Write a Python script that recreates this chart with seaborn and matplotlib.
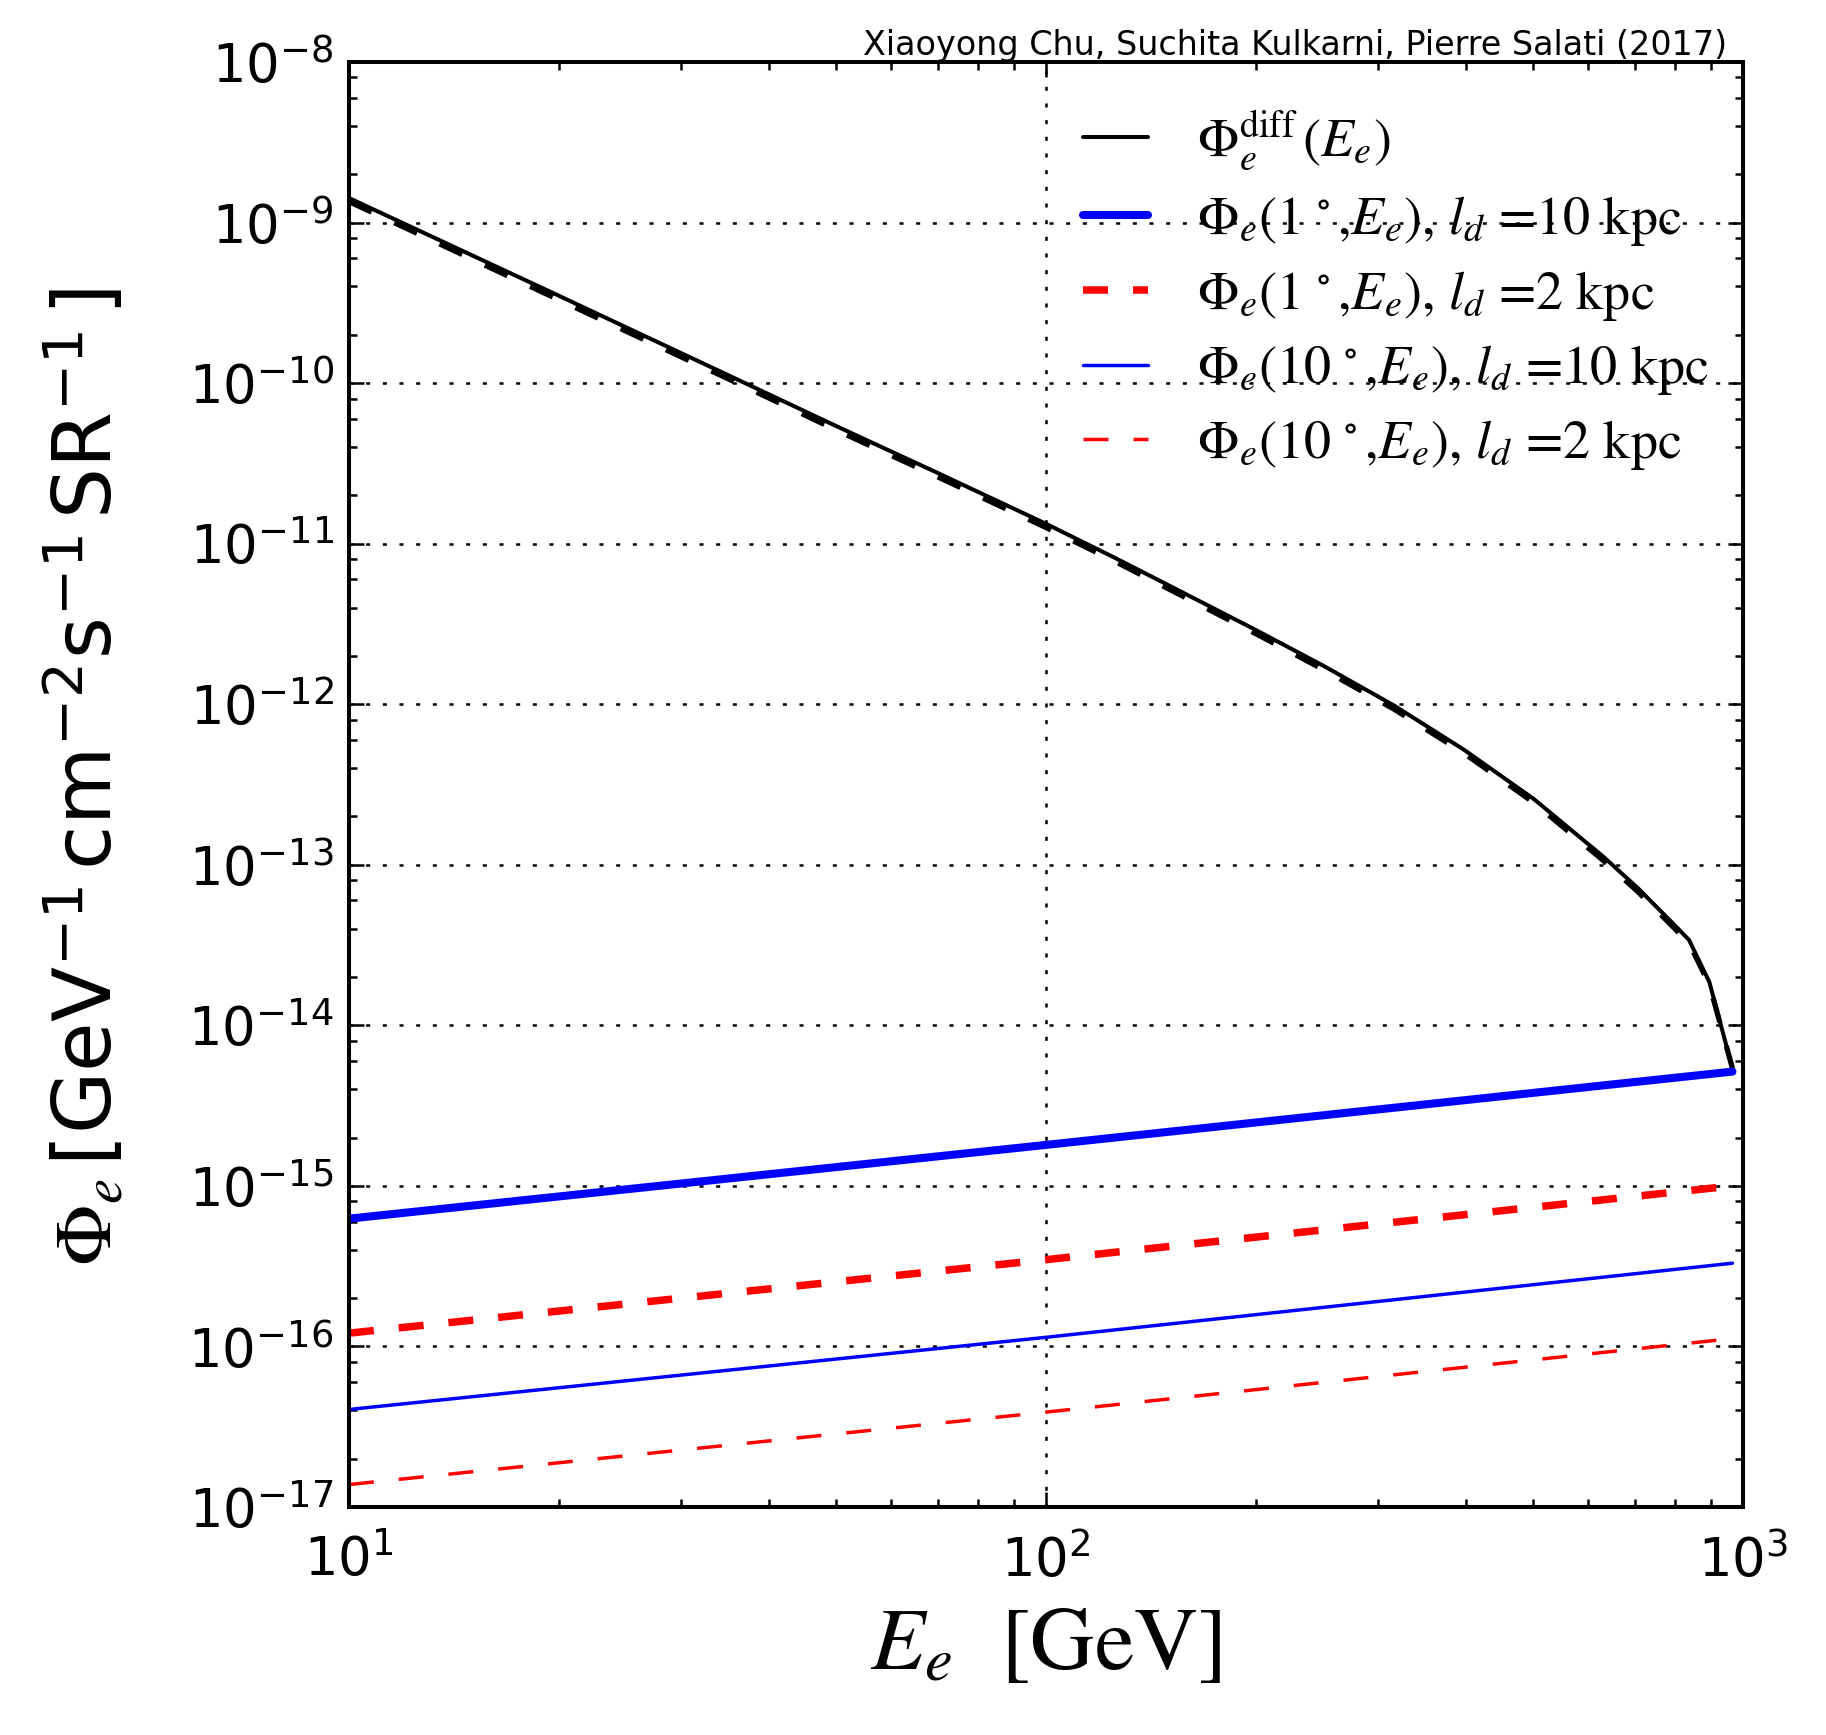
import numpy as np
import pandas as pd
import seaborn as sns
import matplotlib
matplotlib.use("Agg")
import matplotlib.pyplot as plt
from matplotlib.ticker import LogLocator, NullFormatter
from matplotlib.font_manager import FontProperties

# ---------------- data ----------------
E_diff = [10, 11.9, 20, 37, 50, 70, 100, 126, 158, 200, 251, 316, 398, 501, 631,
          708, 794, 837, 895, 966]
phi_diff = [1.42e-9, 1.0e-9, 3.5e-10, 1.0e-10, 5.4e-11, 2.75e-11, 1.33e-11, 8.1e-12,
            4.9e-12, 2.9e-12, 1.72e-12, 9.8e-13, 5.2e-13, 2.57e-13, 1.12e-13,
            7.1e-14, 4.3e-14, 3.4e-14, 1.86e-14, 5.4e-15]
phi_diff_dashed = [1.35e-9, 0.95e-9, 3.3e-10, 9.5e-11, 5.1e-11, 2.6e-11, 1.26e-11, 7.7e-12,
                   4.65e-12, 2.75e-12, 1.63e-12, 9.3e-13, 4.95e-13, 2.44e-13, 1.06e-13,
                   6.75e-14, 4.1e-14, 3.25e-14, 1.8e-14, 5.4e-15]

E_lines = [10, 100, 966]
phi_1deg_10kpc = [6.25e-16, 1.8e-15, 5.15e-15]
phi_1deg_2kpc = [1.21e-16, 3.47e-16, 1.0e-15]
phi_10deg_10kpc = [4.05e-17, 1.14e-16, 3.3e-16]
phi_10deg_2kpc = [1.38e-17, 3.9e-17, 1.12e-16]

labels = [r'$\Phi_e^{\rm diff}\,(E_e)$',
          r'$\Phi_e(1\,^\circ$,$E_e)$, $l_d$ =10 kpc',
          r'$\Phi_e(1\,^\circ$,$E_e)$, $l_d$ =2 kpc',
          r'$\Phi_e(10\,^\circ$,$E_e)$, $l_d$ =10 kpc',
          r'$\Phi_e(10\,^\circ$,$E_e)$, $l_d$ =2 kpc']
credit = 'Xiaoyong Chu, Suchita Kulkarni, Pierre Salati (2017)'

# ---------------- style ----------------
sns.set_style("ticks")
plt.rcParams.update({
    "font.family": ["DejaVu Sans"],
    "mathtext.fontset": "custom",
    "mathtext.rm": "DejaVu Sans",
    "mathtext.it": "STIXGeneral:italic",
    "mathtext.sf": "STIXGeneral",
    "lines.scale_dashes": False,
    "axes.linewidth": 2.9,
    "axes.edgecolor": "black",
    "text.color": "black",
    "axes.labelcolor": "black",
    "xtick.color": "black",
    "ytick.color": "black",
    "xtick.labelcolor": "black",
    "ytick.labelcolor": "black",
})

fig = plt.figure(figsize=(18.26, 17.35), dpi=100)
ax = fig.add_axes([0.1911, 0.1314, 0.7634, 0.8329])
ax.set_xscale("log")
ax.set_yscale("log")

dash_thick = (0, (18, 18))

def draw(x, y, **kw):
    sns.lineplot(x=x, y=y, ax=ax, estimator=None, sort=False, legend=False, **kw)
    return ax.lines[-1]

h0 = draw(E_diff, phi_diff, color="black", linewidth=2.9)
draw(E_diff, phi_diff_dashed, color="black", linewidth=3.8, linestyle=dash_thick)
h1 = draw(E_lines, phi_1deg_10kpc, color="#0000ff", linewidth=5.8)
h2 = draw(E_lines, phi_1deg_2kpc, color="#ff0000", linewidth=5.4, linestyle=dash_thick)
h3 = draw(E_lines, phi_10deg_10kpc, color="#0000ff", linewidth=2.5)
h4 = draw(E_lines, phi_10deg_2kpc, color="#ff0000", linewidth=2.5, linestyle=dash_thick)

ax.set_xlim(10, 1000)
ax.set_ylim(1e-17, 1e-8)

ax.xaxis.set_minor_locator(LogLocator(base=10, subs=np.arange(2, 10), numticks=100))
ax.yaxis.set_minor_locator(LogLocator(base=10, subs=(2, 4, 6, 8), numticks=100))
ax.yaxis.set_major_locator(LogLocator(base=10, numticks=100))
ax.xaxis.set_minor_formatter(NullFormatter())
ax.yaxis.set_minor_formatter(NullFormatter())

ax.grid(True, which="major", color="black", linestyle=(0, (2.9, 9.1)), linewidth=1.8)
ax.grid(False, which="minor")

ax.tick_params(axis="both", which="both", direction="in", top=True, right=True, color="black")
ax.tick_params(axis="both", which="major", length=10.8, width=1.8, labelsize=38)
ax.tick_params(axis="both", which="minor", length=5.8, width=1.8)
ax.tick_params(axis="x", which="major", pad=20)
ax.tick_params(axis="y", which="major", pad=11)

for s in ax.spines.values():
    s.set_visible(True)
    s.set_linewidth(2.9)

ax.set_ylabel(r'$\mathsf{\Phi}_e\,$[GeV$^{-1}\,$cm$^{-2}$s$^{-1}\,$SR$^{-1}\,$]', fontsize=58)
ax.yaxis.set_label_coords(-0.158, 0.505)
ax.set_xlabel(r'$E_e$  [GeV]', fontsize=64, fontfamily="STIXGeneral", math_fontfamily="stix")
ax.xaxis.set_label_coords(0.5, -0.07)

leg_prop = FontProperties(family="STIXGeneral", size=39, math_fontfamily="stix")
ax.legend([h0, h1, h2, h3, h4], labels, loc="upper right", bbox_to_anchor=(1.008, 1.0),
          frameon=False, prop=leg_prop,
          handlelength=1.2, handletextpad=0.9, labelspacing=0.385, borderaxespad=0.45)

fig.text(0.9458, 0.9683, credit, ha="right", va="baseline", fontsize=24, family="DejaVu Sans")

fig.savefig("out.png", dpi=100)
